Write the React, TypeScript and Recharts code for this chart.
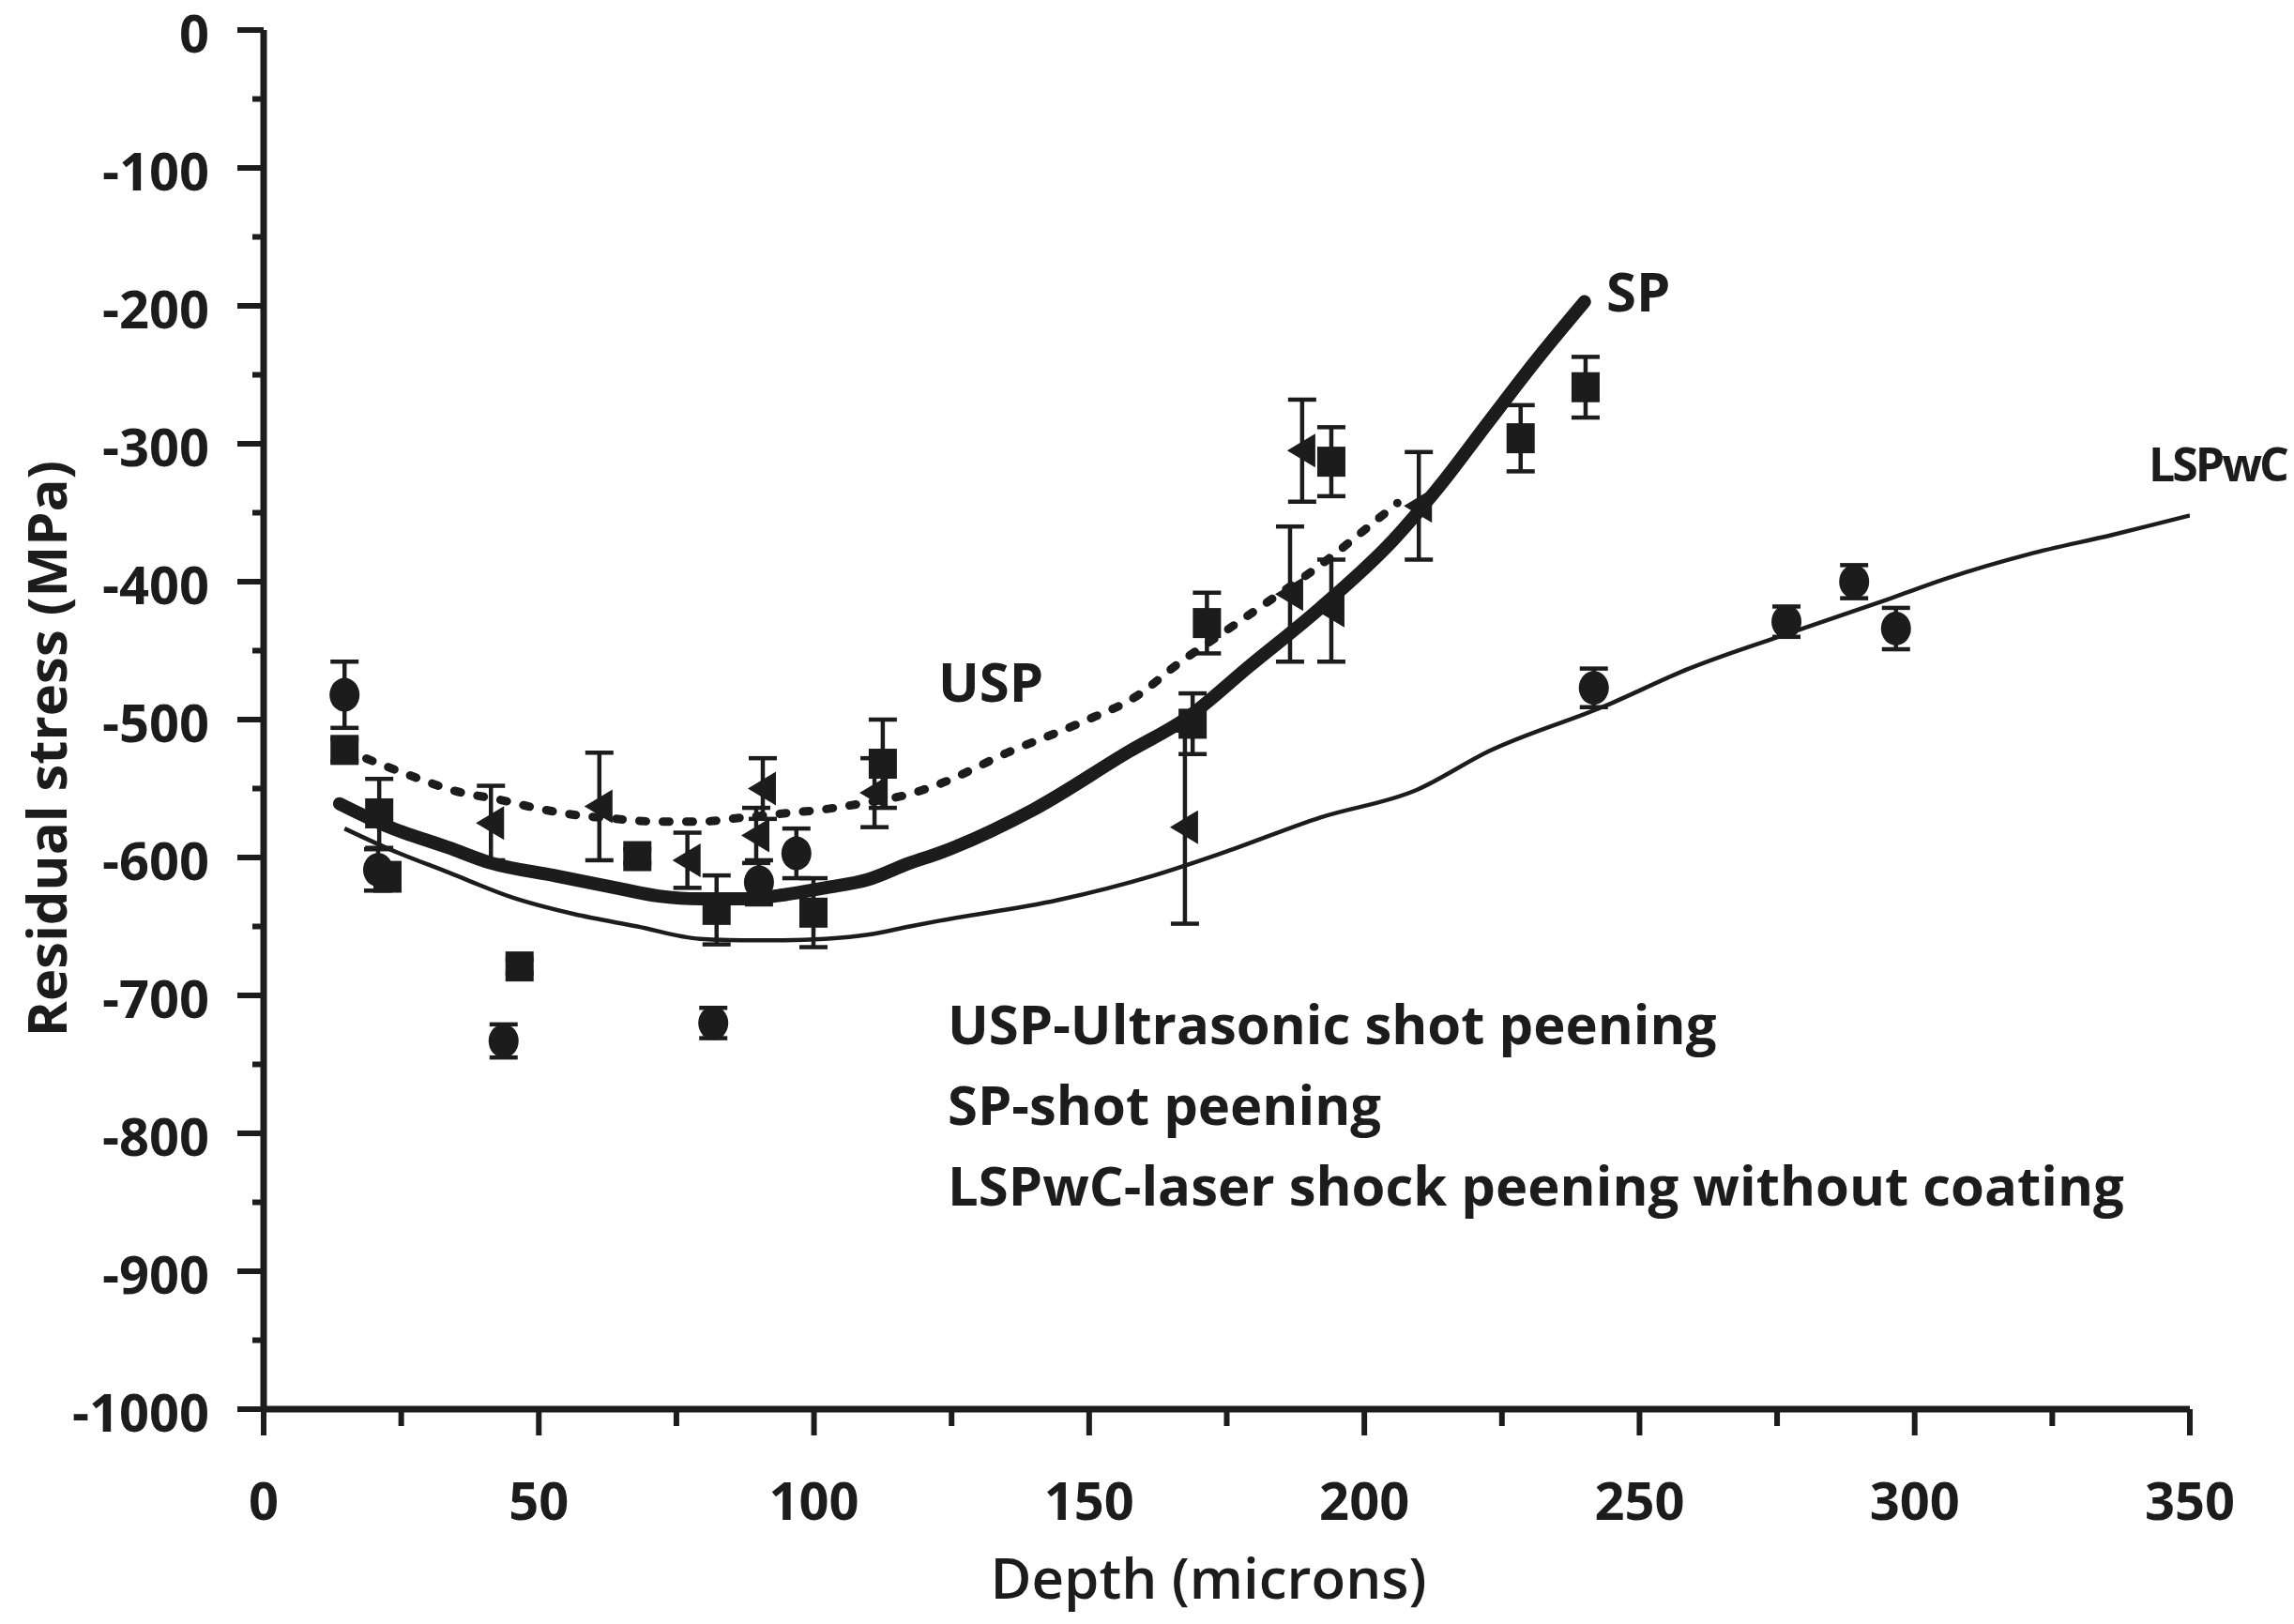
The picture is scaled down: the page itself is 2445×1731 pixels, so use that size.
import { ComposedChart, Line, Scatter, ErrorBar, XAxis, YAxis } from 'recharts';

// measured points (depth in microns, residual stress in MPa, error half-width)
const circleX = [14.7, 20.8, 43.6, 81.7, 90, 96.8, 241.7, 276.7, 289, 296.6];
const circleY = [-482, -609, -733, -720, -618, -597, -477, -429, -400, -434];
const circleErr = [24, 15, 12, 11, 16, 18, 14, 11, 12, 15];

const squareX = [14.7, 21, 22.5, 46.5, 67.9, 82.3, 99.9, 112.5, 168.8, 171.4, 194, 228.4, 240.2];
const squareY = [-522, -568, -614, -679, -599, -638, -640, -532, -503, -430, -313, -296, -259];
const squareErr = [8, 25, 10, 5, 5, 25, 25, 32, 22, 22, 25, 24, 22];

const triX = [41.3, 61, 77, 90.7, 89.5, 111, 167.4, 186.5, 188.7, 194, 209.9];
const triY = [-575, -563, -602, -550, -584, -553, -578, -409, -305, -421, -345];
const triErr = [27, 39, 20, 22, 20, 25, 70, 49, 37, 37, 39];

// fitted curves
const spX = [13.8, 22.3, 33.7, 41.3, 52.7, 64, 71.8, 79.3, 87, 94.6, 102, 109.8, 117.4, 122.6, 140, 157.3, 167.7, 179.2, 192, 205.2, 214, 222.6, 231.3, 240];
const spY = [-561, -577, -593, -604, -613, -622, -628, -630, -630, -627, -622, -616, -604, -597, -565, -523, -499, -461, -419, -370, -329, -284, -239, -197];

const uspX = [14.7, 23, 28.3, 35, 42.8, 50.5, 56.4, 64, 71.8, 79.3, 87, 94.6, 102, 109.8, 117.4, 122.6, 135.7, 148.6, 159, 166, 174.7, 183.4, 192, 200.8, 206];
const uspY = [-522, -535, -543, -552, -558, -565, -569, -572, -574, -574, -571, -568, -565, -560, -554, -547, -523, -502, -482, -460, -436, -412, -388, -360, -343];

const lspX = [14.7, 22.3, 33.7, 45.2, 56.4, 67.9, 79.3, 87, 94.6, 102, 109.8, 117.4, 122.6, 144.2, 161.8, 174.7, 192, 209.5, 222.6, 243.8, 259, 279.7, 295, 305.5, 320.8, 336, 350];
const lspY = [-579, -593, -611, -629, -641, -650, -659, -660, -660, -659, -656, -650, -646, -631, -613, -596, -571, -551, -523, -490, -463, -434, -413, -398, -380, -366, -352];

const xTicks = [0, 25, 50, 75, 100, 125, 150, 175, 200, 225, 250, 275, 300, 325, 350];
const yTicks = [0, -50, -100, -150, -200, -250, -300, -350, -400, -450, -500, -550, -600, -650, -700, -750, -800, -850, -900, -950, -1000];

const legendLines = [
  'USP-Ultrasonic shot peening',
  'SP-shot peening',
  'LSPwC-laser shock peening without coating',
];

const INK = '#1c1c1c';
const FONT = '"Open Sans", sans-serif';

const points = (xs: number[], ys: number[], errs: number[]) =>
  xs.map((x, i) => ({ x, y: ys[i], err: errs[i] }));
const curve = (xs: number[], ys: number[]) => xs.map((x, i) => ({ x, y: ys[i] }));

const circles = points(circleX, circleY, circleErr);
const squares = points(squareX, squareY, squareErr);
const triangles = points(triX, triY, triErr);

const YTick = ({ x, y, payload }: any) => {
  const major = payload.value % 100 === 0;
  return (
    <g>
      <line x1={x} x2={x - (major ? 28 : 12)} y1={y} y2={y} stroke={INK} strokeWidth={6} />
      {major && (
        <text x={x - 58} y={y + 2} textAnchor="end" dominantBaseline="central" fill={INK}
          fontFamily={FONT} fontWeight={700} fontSize={56}>
          {payload.value}
        </text>
      )}
    </g>
  );
};

const XTick = ({ x, y, payload }: any) => {
  const major = payload.value % 50 === 0;
  return (
    <g>
      <line x1={x} x2={x} y1={y} y2={y + (major ? 28 : 18)} stroke={INK} strokeWidth={6} />
      {major && (
        <text x={x} y={y + 96} textAnchor="middle" dominantBaseline="central" fill={INK}
          fontFamily={FONT} fontWeight={700} fontSize={56}>
          {payload.value}
        </text>
      )}
    </g>
  );
};

const Dot = ({ cx, cy }: any) => <ellipse cx={cx} cy={cy} rx={16} ry={18} fill={INK} />;
const Square = ({ cx, cy }: any) => <rect x={cx - 15} y={cy - 16} width={30} height={32} fill={INK} />;
const LeftTri = ({ cx, cy }: any) => (
  <path d={`M${cx - 16},${cy} L${cx + 14},${cy - 18} L${cx + 14},${cy + 18} Z`} fill={INK} />
);

const textStyle = { fontFamily: FONT, fontWeight: 700, color: INK, position: 'absolute' as const, whiteSpace: 'nowrap' as const };

export default function App() {
  return (
    <div style={{ position: 'relative', width: 2445, height: 1731, background: '#fff' }}>
      <style>{'body{margin:0}'}</style>
      <ComposedChart width={2445} height={1731} margin={{ top: 32, right: 111, bottom: 0, left: 0 }}>
        <XAxis type="number" dataKey="x" domain={[0, 350]} ticks={xTicks} allowDataOverflow
          height={229} tickSize={0} tickMargin={0} tick={<XTick />}
          axisLine={{ stroke: INK, strokeWidth: 7 }}
          label={{
            content: () => (
              <text x={1288} y={1681} textAnchor="middle" dominantBaseline="central" fill={INK}
                fontFamily={FONT} fontWeight={600} fontSize={60}>Depth (microns)</text>
            ),
          }} />
        <YAxis type="number" dataKey="y" domain={[-1000, 0]} ticks={yTicks} allowDataOverflow
          width={281} tickSize={0} tickMargin={0} tick={<YTick />}
          axisLine={{ stroke: INK, strokeWidth: 7 }}
          label={{
            content: () => (
              <text x={48} y={798} transform="rotate(-90 48 798)" textAnchor="middle" dominantBaseline="central"
                fill={INK} fontFamily={FONT} fontWeight={700} fontSize={58}>Residual stress (MPa)</text>
            ),
          }} />
        <Line data={curve(lspX, lspY)} dataKey="y" type="monotone" stroke={INK} strokeWidth={4.5}
          dot={false} activeDot={false} isAnimationActive={false} />
        <Line data={curve(spX, spY)} dataKey="y" type="monotone" stroke={INK} strokeWidth={14}
          strokeLinecap="round" dot={false} activeDot={false} isAnimationActive={false} />
        <Line data={curve(uspX, uspY)} dataKey="y" type="monotone" stroke={INK} strokeWidth={9}
          strokeDasharray="7 18" strokeLinecap="round" dot={false} activeDot={false} isAnimationActive={false} />
        <Scatter data={circles} dataKey="y" shape={<Dot />} isAnimationActive={false}>
          <ErrorBar dataKey="err" direction="y" width={15} stroke={INK} strokeWidth={4.5} />
        </Scatter>
        <Scatter data={squares} dataKey="y" shape={<Square />} isAnimationActive={false}>
          <ErrorBar dataKey="err" direction="y" width={15} stroke={INK} strokeWidth={4.5} />
        </Scatter>
        <Scatter data={triangles} dataKey="y" shape={<LeftTri />} isAnimationActive={false}>
          <ErrorBar dataKey="err" direction="y" width={15} stroke={INK} strokeWidth={4.5} />
        </Scatter>
      </ComposedChart>
      <div style={{ ...textStyle, fontSize: 58, left: 1000, top: 686 }}>USP</div>
      <div style={{ ...textStyle, fontSize: 58, left: 1712, top: 270 }}>SP</div>
      <div style={{ ...textStyle, fontSize: 50, left: 2290, top: 460, letterSpacing: -3 }}>LSPwC</div>
      <div style={{ ...textStyle, fontSize: 58, left: 1010, top: 1048, lineHeight: '86px' }}>
        {legendLines.map((t) => (
          <div key={t}>{t}</div>
        ))}
      </div>
    </div>
  );
}
